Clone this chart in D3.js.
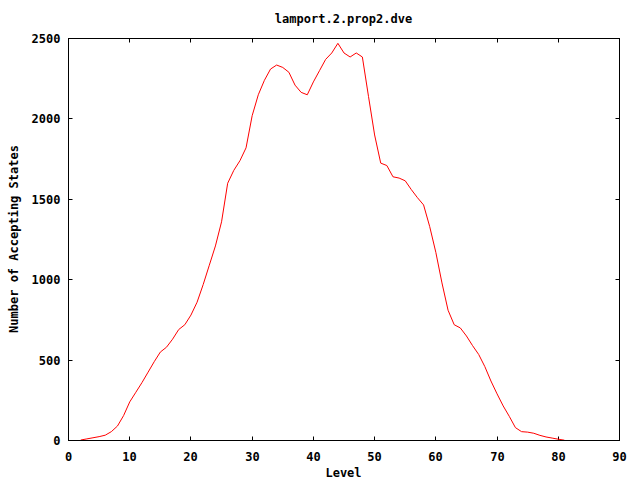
<!DOCTYPE html>
<html>
<head>
<meta charset="utf-8">
<script src="https://cdn.jsdelivr.net/npm/d3@7"></script>
<style>
  body { margin: 0; background: #fff; }
  text { font-family: "DejaVu Sans Mono", monospace; font-weight: bold; font-size: 12px; fill: #000; }
</style>
</head>
<body>
<div id="chart"></div>
<script>
// Data
const levels = d3.range(2, 82);
const acceptingStates = [
    3, 10, 17, 24, 33, 55, 90, 155, 240, 300,
    360, 425, 490, 550, 580, 630, 690, 720, 780, 860,
    970, 1090, 1210, 1360, 1600, 1680, 1740, 1820, 2020, 2150,
    2240, 2310, 2335, 2320, 2290, 2210, 2165, 2150, 2230, 2300,
    2370, 2410, 2470, 2410, 2385, 2410, 2385, 2140, 1900, 1725,
    1710, 1640, 1632, 1615, 1560, 1510, 1465, 1330, 1170, 980,
    810, 720, 700, 650, 590, 535, 460, 370, 290, 215,
    150, 80, 55, 52, 45, 32, 22, 15, 8, 2
];
const xTicks = d3.range(0, 91, 10);
const yTicks = [0, 500, 1000, 1500, 2000, 2500];

const W = 640, H = 480;
const margin = { top: 38, right: 21, bottom: 40, left: 68 };
const width = W - margin.left - margin.right;
const height = H - margin.top - margin.bottom;

const svg = d3.select("#chart").append("svg")
    .attr("width", W)
    .attr("height", H);

const g = svg.append("g")
    .attr("transform", `translate(${margin.left + 0.5},${margin.top + 0.5})`);

const x = d3.scaleLinear().domain([0, 90]).range([0, width]);
const y = d3.scaleLinear().domain([0, 2500]).range([height, 0]);

const tickLen = 4;

// Bottom + top ticks
xTicks.forEach(t => {
    const px = Math.round(x(t));
    g.append("line").attr("x1", px).attr("x2", px).attr("y1", height).attr("y2", height - tickLen).attr("stroke", "#000");
    g.append("line").attr("x1", px).attr("x2", px).attr("y1", 0).attr("y2", tickLen).attr("stroke", "#000");
    g.append("text")
        .attr("x", px)
        .attr("y", height + 20)
        .attr("text-anchor", "middle")
        .text(t);
});

// Left + right ticks
yTicks.forEach(t => {
    const py = Math.round(y(t));
    g.append("line").attr("x1", 0).attr("x2", tickLen).attr("y1", py).attr("y2", py).attr("stroke", "#000");
    g.append("line").attr("x1", width).attr("x2", width - tickLen).attr("y1", py).attr("y2", py).attr("stroke", "#000");
    g.append("text")
        .attr("x", -8)
        .attr("y", py + 4)
        .attr("text-anchor", "end")
        .text(t);
});

// Curve
const line = d3.line()
    .x((d, i) => x(levels[i]))
    .y(d => y(d));

g.append("path")
    .datum(acceptingStates)
    .attr("fill", "none")
    .attr("stroke", "#ff0000")
    .attr("stroke-width", 1)
    .attr("d", line);

// Frame
g.append("rect")
    .attr("x", 0).attr("y", 0)
    .attr("width", width).attr("height", height)
    .attr("fill", "none")
    .attr("stroke", "#000");

// Titles
svg.append("text")
    .attr("x", margin.left + width / 2)
    .attr("y", 23)
    .attr("text-anchor", "middle")
    .text("lamport.2.prop2.dve");

svg.append("text")
    .attr("x", margin.left + width / 2)
    .attr("y", 477)
    .attr("text-anchor", "middle")
    .text("Level");

svg.append("text")
    .attr("transform", `translate(18,${margin.top + height / 2}) rotate(-90)`)
    .attr("text-anchor", "middle")
    .text("Number of Accepting States");
</script>
</body>
</html>
